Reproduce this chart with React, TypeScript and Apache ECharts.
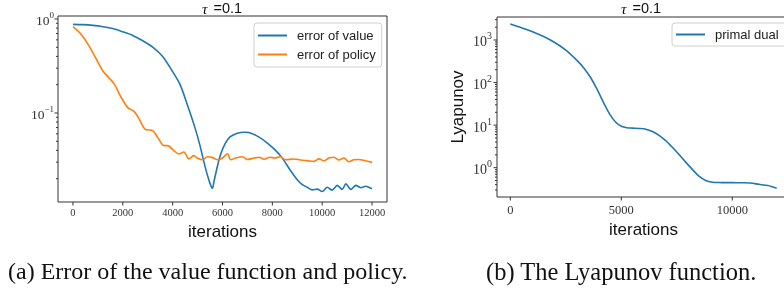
import React, { useEffect, useRef } from 'react';
import * as echarts from 'echarts';

// ---------- data ----------
const valueIter = [0, 400, 800, 1200, 1600, 2000, 2400, 2800, 3200, 3600, 4000, 4300, 4600, 4900, 5100, 5300, 5450, 5560, 5600, 5650, 5750, 5900, 6100, 6300, 6600, 6900, 7200, 7500, 7800, 8100, 8400, 8700, 9000, 9200, 9400, 9600, 9800, 10000, 10200, 10400, 10600, 10800, 10950, 11150, 11350, 11550, 11750, 11950, 12000];
const valueErr = [0.877, 0.871, 0.855, 0.828, 0.791, 0.73, 0.668, 0.586, 0.501, 0.398, 0.275, 0.2, 0.12, 0.069, 0.0447, 0.0269, 0.0195, 0.0162, 0.0158, 0.0182, 0.024, 0.0347, 0.0468, 0.0556, 0.061, 0.0624, 0.0603, 0.0547, 0.0479, 0.0407, 0.0331, 0.0251, 0.0195, 0.0173, 0.0162, 0.0152, 0.0155, 0.0146, 0.0162, 0.0151, 0.017, 0.0154, 0.0176, 0.0154, 0.017, 0.016, 0.0166, 0.0158, 0.0157];

const policyIter = [0, 300, 600, 900, 1200, 1450, 1650, 1900, 2200, 2450, 2650, 2900, 3200, 3400, 3650, 3800, 4050, 4250, 4450, 4650, 4850, 5000, 5200, 5400, 5600, 5800, 6000, 6200, 6330, 6530, 6800, 7000, 7270, 7470, 7670, 7900, 8100, 8330, 8530, 8870, 9130, 9400, 9670, 9870, 10070, 10270, 10470, 10670, 10870, 11070, 11270, 11470, 11730, 11930, 12000];
const policyErr = [0.83, 0.7, 0.54, 0.39, 0.28, 0.236, 0.205, 0.152, 0.114, 0.104, 0.087, 0.067, 0.065, 0.055, 0.045, 0.045, 0.0397, 0.0366, 0.0385, 0.0325, 0.0352, 0.033, 0.0318, 0.0342, 0.0335, 0.0318, 0.0332, 0.0368, 0.0318, 0.0332, 0.0342, 0.032, 0.0332, 0.0338, 0.0322, 0.0338, 0.0332, 0.0342, 0.0318, 0.0324, 0.0316, 0.0311, 0.0306, 0.0325, 0.031, 0.0332, 0.0338, 0.0316, 0.0332, 0.0303, 0.0318, 0.032, 0.031, 0.0302, 0.0297];

const lyapIter = [0, 500, 1000, 1500, 2000, 2500, 3000, 3300, 3600, 3900, 4200, 4500, 4750, 5000, 5250, 5500, 5800, 6100, 6400, 6700, 7000, 7300, 7600, 7900, 8200, 8500, 8800, 9100, 9500, 10000, 10400, 10800, 11200, 11600, 12000];
const lyapVal = [2377, 1950, 1567, 1202, 871, 575, 331, 224, 135, 70.8, 33.9, 17.4, 11.7, 9.44, 8.71, 8.51, 8.36, 8.04, 7.08, 5.75, 4.32, 3.02, 2.04, 1.35, 0.912, 0.631, 0.501, 0.457, 0.447, 0.445, 0.442, 0.437, 0.407, 0.38, 0.331];

// ---------- ticks ----------
const leftXTicks = [0, 2000, 4000, 6000, 8000, 10000, 12000];
const rightXTicks = [0, 5000, 10000];
const leftYMajor = [0.1, 1];
const leftYMinor = [0.02, 0.03, 0.04, 0.05, 0.06, 0.07, 0.08, 0.09, 0.2, 0.3, 0.4, 0.5, 0.6, 0.7, 0.8, 0.9];
const rightYMajor = [1, 10, 100, 1000];
const rightYMinor = [0.3, 0.4, 0.5, 0.6, 0.7, 0.8, 0.9, 2, 3, 4, 5, 6, 7, 8, 9, 20, 30, 40, 50, 60, 70, 80, 90, 200, 300, 400, 500, 600, 700, 800, 900, 2000, 3000];

const X_MIN = -600;
const X_MAX = 12600;
const LEFT_Y_MIN = 0.0113;
const LEFT_Y_MAX = 1.076;
const RIGHT_Y_MIN = 0.205;
const RIGHT_Y_MAX = 3467;

const FRAME = '#333';
const BLUE = '#1f77b4';
const ORANGE = '#ff7f0e';
const SERIF = '"Liberation Serif", "DejaVu Serif", serif';
const SANS = '"Liberation Sans", Arial, sans-serif';

const pair = (xs: number[], ys: number[]) => xs.map((x, i) => [x, ys[i]]);

const powFormatter = (v: number) => {
  const e = Math.log10(v);
  const r = Math.round(e);
  if (Math.abs(e - r) > 1e-6) return '';
  return `{b|10}{s|${r < 0 ? '\u2212' + Math.abs(r) : r}}`;
};

const powRich = (size: number) => ({
  b: { fontFamily: SERIF, fontSize: size, color: FRAME, lineHeight: size + 4, verticalAlign: 'bottom' },
  s: { fontFamily: SERIF, fontSize: Math.round(size * 0.7), color: FRAME, lineHeight: size + 4, verticalAlign: 'top', padding: [0, 0, 6, 0] },
});

const tickSeries = (idx: number, items: number[][]) => ({
  type: 'custom',
  xAxisIndex: idx,
  yAxisIndex: idx,
  silent: true,
  clip: false,
  z: 5,
  data: items,
  renderItem: (_p: any, api: any) => {
    const p = api.coord([api.value(0), api.value(1)]);
    const k = api.value(2);
    const len = k === 2 ? 2 : 3.5;
    const shape = k === 0
      ? { x1: p[0], y1: p[1], x2: p[0], y2: p[1] + len }
      : { x1: p[0], y1: p[1], x2: p[0] - len, y2: p[1] };
    return { type: 'line', shape, style: { stroke: FRAME, lineWidth: 1 } };
  },
});

const titleStyle = {
  text: '{t|\u03c4}{n|=0.1}',
  align: 'center',
  verticalAlign: 'middle',
  rich: {
    t: { fontFamily: SERIF, fontStyle: 'italic', fontSize: 15.5, lineHeight: 14, fill: '#111', padding: [0, 6, 0, 0] },
    n: { fontFamily: SANS, fontSize: 14.5, lineHeight: 14, fill: '#111' },
  },
};

export default function App() {
  const ref = useRef<HTMLDivElement>(null);
  useEffect(() => {
    const chart = echarts.init(ref.current!, undefined, { renderer: 'svg' });
    const leftTicks = [
      ...leftXTicks.map((v) => [v, LEFT_Y_MIN, 0]),
      ...leftYMajor.map((v) => [X_MIN, v, 1]),
      ...leftYMinor.map((v) => [X_MIN, v, 2]),
    ];
    const rightTicks = [
      ...rightXTicks.map((v) => [v, RIGHT_Y_MIN, 0]),
      ...rightYMajor.map((v) => [X_MIN, v, 1]),
      ...rightYMinor.map((v) => [X_MIN, v, 2]),
    ];
    const legendCommon = {
      orient: 'vertical',
      icon: 'rect',
      itemWidth: 29,
      itemHeight: 2,
      itemGap: 4,
      borderColor: '#d0d0d0',
      borderWidth: 1,
      borderRadius: 3,
      backgroundColor: 'rgba(255,255,255,0.8)',
      textStyle: { fontFamily: SANS, fontSize: 13, color: '#222', lineHeight: 15, padding: [0, 0, 0, 5] },
    };
    const option: any = {
      animation: false,
      grid: [
        { left: 58, top: 16, width: 329, height: 186, show: true, borderColor: FRAME, borderWidth: 1, backgroundColor: 'transparent', outerBoundsMode: 'none' },
        { left: 497, top: 17, width: 293, height: 180, show: true, borderColor: FRAME, borderWidth: 1, backgroundColor: 'transparent', outerBoundsMode: 'none' },
      ],
      xAxis: [
        {
          type: 'value', gridIndex: 0, min: X_MIN, max: X_MAX,
          axisLine: { show: false }, axisTick: { show: false }, splitLine: { show: false },
          axisLabel: { customValues: leftXTicks, formatter: (v: number) => String(v), fontFamily: SERIF, fontSize: 10.5, color: FRAME, margin: 5 },
          name: 'iterations', nameLocation: 'middle', nameGap: 17,
          nameTextStyle: { fontFamily: SANS, fontSize: 17, color: '#111' },
        },
        {
          type: 'value', gridIndex: 1, min: X_MIN, max: X_MAX,
          axisLine: { show: false }, axisTick: { show: false }, splitLine: { show: false },
          axisLabel: { customValues: rightXTicks, formatter: (v: number) => String(v), fontFamily: SERIF, fontSize: 12.5, color: FRAME, margin: 6 },
          name: 'iterations', nameLocation: 'middle', nameGap: 22,
          nameTextStyle: { fontFamily: SANS, fontSize: 17, color: '#111' },
        },
      ],
      yAxis: [
        {
          type: 'log', gridIndex: 0, min: LEFT_Y_MIN, max: LEFT_Y_MAX,
          axisLine: { show: false }, axisTick: { show: false }, splitLine: { show: false }, minorTick: { show: false },
          axisLabel: { formatter: powFormatter, rich: powRich(13.5), showMinLabel: false, showMaxLabel: false, margin: 4 },
        },
        {
          type: 'log', gridIndex: 1, min: RIGHT_Y_MIN, max: RIGHT_Y_MAX,
          axisLine: { show: false }, axisTick: { show: false }, splitLine: { show: false }, minorTick: { show: false },
          axisLabel: { formatter: powFormatter, rich: powRich(14), showMinLabel: false, showMaxLabel: false, margin: 5 },
          name: 'Lyapunov', nameLocation: 'middle', nameGap: 31, nameRotate: 90,
          nameTextStyle: { fontFamily: SANS, fontSize: 17, color: '#111' },
        },
      ],
      legend: [
        { ...legendCommon, data: ['error of value', 'error of policy'], left: 254, top: 23, padding: [5, 6, 5, 4] },
        { ...legendCommon, data: ['primal dual'], left: 672, top: 23, padding: [4, 12, 4, 4] },
      ],
      series: [
        { name: 'error of value', type: 'line', xAxisIndex: 0, yAxisIndex: 0, data: pair(valueIter, valueErr), symbol: 'none', smooth: 0.25, lineStyle: { color: BLUE, width: 1.6 }, itemStyle: { color: BLUE } },
        { name: 'error of policy', type: 'line', xAxisIndex: 0, yAxisIndex: 0, data: pair(policyIter, policyErr), symbol: 'none', smooth: 0.3, lineStyle: { color: ORANGE, width: 1.6 }, itemStyle: { color: ORANGE } },
        { name: 'primal dual', type: 'line', xAxisIndex: 1, yAxisIndex: 1, data: pair(lyapIter, lyapVal), symbol: 'none', smooth: 0.3, lineStyle: { color: BLUE, width: 1.6 }, itemStyle: { color: BLUE } },
        tickSeries(0, leftTicks),
        tickSeries(1, rightTicks),
      ],
      graphic: [
        { type: 'text', x: 222, y: 8, style: titleStyle },
        { type: 'text', x: 641, y: 8, style: titleStyle },
        {
          type: 'text', x: 8, y: 271,
          style: { text: '(a) Error of the value function and policy.', fontFamily: SERIF, fontSize: 24, fill: '#111', verticalAlign: 'middle' },
        },
        {
          type: 'text', x: 486, y: 271,
          style: { text: '(b) The Lyapunov function.', fontFamily: SERIF, fontSize: 24.5, fill: '#111', verticalAlign: 'middle' },
        },
      ],
    };
    chart.setOption(option);
    return () => chart.dispose();
  }, []);
  return <div ref={ref} style={{ position: 'fixed', left: 0, top: 0, width: 784, height: 295 }} />;
}
